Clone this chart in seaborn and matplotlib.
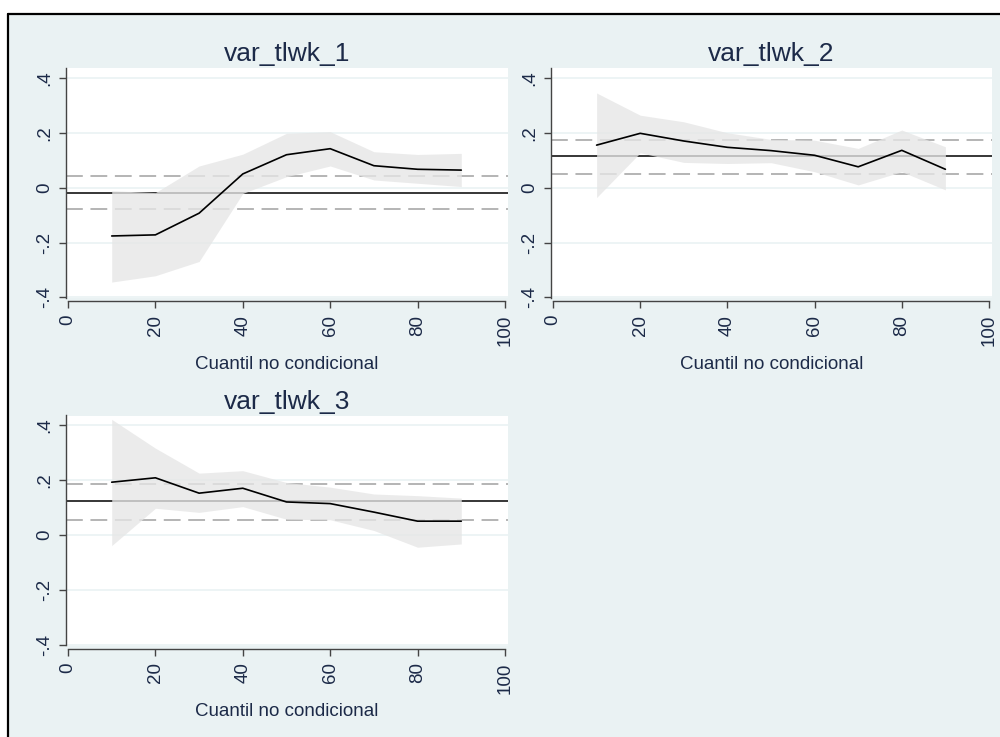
import numpy as np
import pandas as pd
import matplotlib
matplotlib.use("Agg")
import matplotlib.pyplot as plt
from matplotlib.patches import Rectangle
from matplotlib.lines import Line2D
import seaborn as sns

sns.set_theme(style="white")
plt.rcParams['font.family'] = ['Liberation Sans', 'DejaVu Sans']

# ---------------- data ----------------
quantiles = [10, 20, 30, 40, 50, 60, 70, 80, 90]
titles = ["var_tlwk_1", "var_tlwk_2", "var_tlwk_3"]

est_1 = [-0.176, -0.172, -0.093, 0.050, 0.120, 0.142, 0.080, 0.067, 0.064]
hi_1 = [-0.011, -0.018, 0.079, 0.122, 0.198, 0.204, 0.131, 0.121, 0.125]
lo_1 = [-0.344, -0.321, -0.269, -0.021, 0.040, 0.079, 0.028, 0.016, 0.004]
ols_1 = -0.018
ols_hi_1 = 0.044
ols_lo_1 = -0.079

est_2 = [0.155, 0.198, 0.170, 0.147, 0.135, 0.118, 0.076, 0.136, 0.067]
hi_2 = [0.345, 0.264, 0.240, 0.200, 0.176, 0.173, 0.143, 0.210, 0.149]
lo_2 = [-0.036, 0.127, 0.092, 0.088, 0.091, 0.058, 0.010, 0.058, -0.008]
ols_2 = 0.114
ols_hi_2 = 0.173
ols_lo_2 = 0.051

est_3 = [0.193, 0.209, 0.153, 0.171, 0.121, 0.115, 0.084, 0.051, 0.051]
hi_3 = [0.422, 0.317, 0.226, 0.235, 0.192, 0.175, 0.150, 0.144, 0.135]
lo_3 = [-0.038, 0.098, 0.083, 0.104, 0.058, 0.056, 0.017, -0.044, -0.032]
ols_3 = 0.123
ols_hi_3 = 0.188
ols_lo_3 = 0.056

y_ticks = [-0.4, -0.2, 0.0, 0.2, 0.4]
y_ticklabels = ["-.4", "-.2", "0", ".2", ".4"]
x_ticks = [0, 20, 40, 60, 80, 100]
x_ticklabels = ["0", "20", "40", "60", "80", "100"]
xlabel = "Cuantil no condicional"

panels = [
    (est_1, hi_1, lo_1, ols_1, ols_hi_1, ols_lo_1),
    (est_2, hi_2, lo_2, ols_2, ols_hi_2, ols_lo_2),
    (est_3, hi_3, lo_3, ols_3, ols_hi_3, ols_lo_3),
]

# ---------------- figure ----------------
W, H = 1000, 737
fig = plt.figure(figsize=(W / 100, H / 100), dpi=100)
fig.patch.set_facecolor("white")

BG = "#EAF2F3"
TXT = "#1C2A48"
# background panel and frame
fig.add_artist(Rectangle((8 / W, 0), 1 - 8 / W, 1 - 14 / H, transform=fig.transFigure,
                         facecolor=BG, edgecolor="none", zorder=0))
fig.add_artist(Line2D([8 / W, 1], [1 - 14 / H, 1 - 14 / H], transform=fig.transFigure,
                      color="black", lw=1.6, zorder=5))
fig.add_artist(Line2D([8 / W, 8 / W], [0, 1 - 14 / H], transform=fig.transFigure,
                      color="black", lw=1.6, zorder=5))

# axes rectangles in pixels: (left, top, right, bottom)
rects = [(66, 68, 508, 298), (551, 68, 992, 298), (66, 415.5, 508, 645.5)]

for (l, t, r, b), title, (est, hi, lo, ols, ohi, olo) in zip(rects, titles, panels):
    ax = fig.add_axes([l / W, 1 - b / H, (r - l) / W, (b - t) / H])
    ax.set_facecolor("white")

    # grid
    for yv in y_ticks:
        ax.axhline(yv, color="#EAF2F3", lw=1.2, zorder=0.5)

    # reference lines
    ax.axhline(ols, color="black", lw=1.1, zorder=1)
    ax.axhline(ohi, color="#A0A0A0", lw=1.1, dashes=(11, 5), zorder=1)
    ax.axhline(olo, color="#A0A0A0", lw=1.1, dashes=(11, 5), zorder=1)

    # confidence band
    ax.fill_between(quantiles, lo, hi, color="#E6E6E6", alpha=0.78, lw=0, zorder=2)

    df = pd.DataFrame({"q": quantiles, "b": est})
    sns.lineplot(data=df, x="q", y="b", ax=ax, color="black", lw=1.2, zorder=3)

    ax.set_xlim(-0.46, 100.69)
    ax.set_ylim(-0.402, 0.436)

    ax.set_yticks(y_ticks)
    ax.set_yticklabels(y_ticklabels)
    ax.set_xticks(x_ticks)
    ax.set_xticklabels(x_ticklabels)
    ax.tick_params(axis="both", direction="out", length=5, width=1.0, color="#444444",
                   left=True, bottom=True, pad=4.5, labelsize=13.5, labelcolor=TXT)
    ax.tick_params(axis="x", labelrotation=90)
    ax.tick_params(axis="y", labelrotation=90)
    for lab in ax.get_yticklabels():
        lab.set_va("center")

    for s in ["top", "right"]:
        ax.spines[s].set_visible(False)
    for s in ["left", "bottom"]:
        ax.spines[s].set_color("#444444")
        ax.spines[s].set_linewidth(1.0)
    ax.spines["bottom"].set_position(("outward", 2.5))
    ax.spines["bottom"].set_bounds(0, 100)

    ax.set_ylabel("")
    ax.set_xlabel(xlabel, fontsize=13.5, color=TXT, labelpad=7)
    ax.set_title(title, fontsize=19, color=TXT, pad=5)

fig.savefig("out.png", dpi=100, facecolor=fig.get_facecolor())
